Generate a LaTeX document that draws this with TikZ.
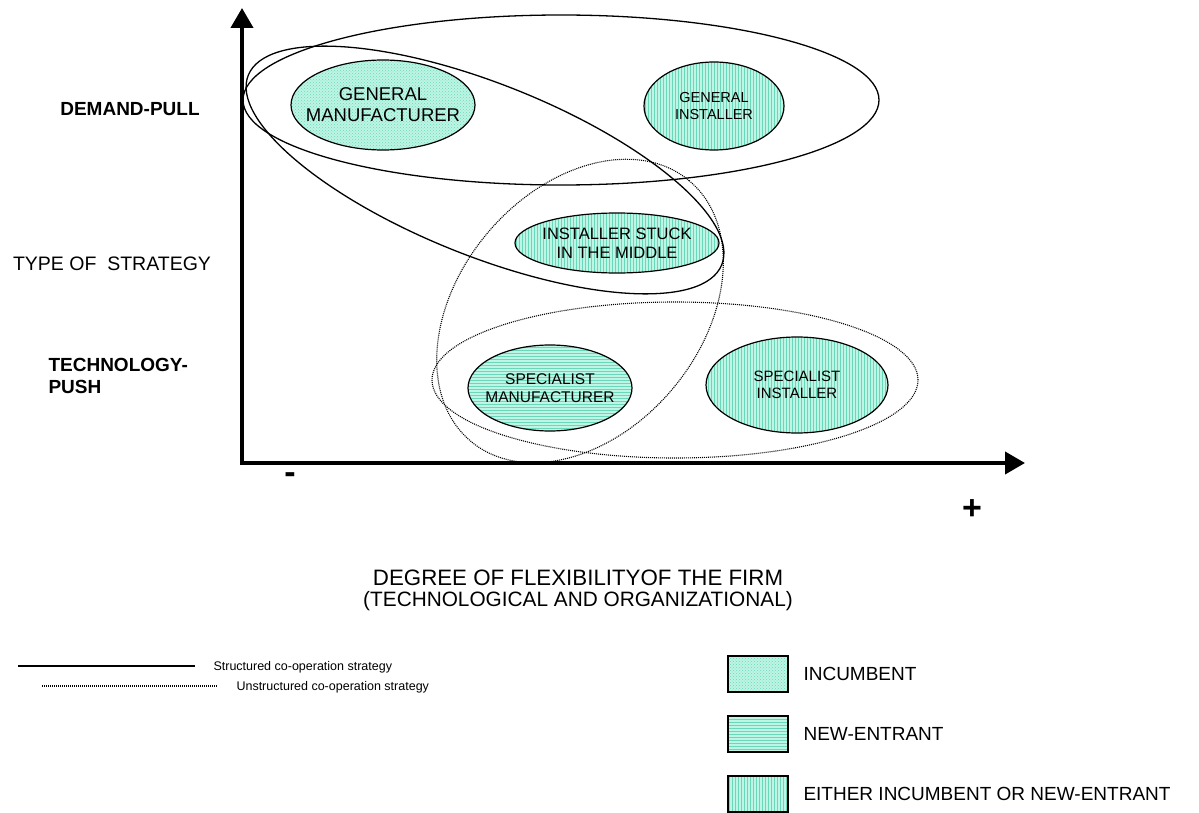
\documentclass[tikz,border=0pt]{standalone}
\usepackage{fontspec}
\setmainfont{Liberation Sans}
\usetikzlibrary{arrows.meta,patterns,shapes.geometric}
\definecolor{aquabg}{RGB}{190,245,228}
\definecolor{aqualn}{RGB}{105,215,185}
\begin{document}
\begin{tikzpicture}[x=1pt,y=-1pt,
  blob/.style={ellipse, draw, line width=1.2pt, preaction={fill=aquabg}, inner sep=0pt},
  inc/.style={pattern=crosshatch dots, pattern color=aqualn},
  newe/.style={pattern=horizontal lines, pattern color=aqualn},
  eith/.style={pattern=vertical lines, pattern color=aqualn},
  firmtxt/.style={align=center, inner sep=0pt},
  solidring/.style={draw, line width=1.3pt},
  dotring/.style={draw, line width=1.1pt, dash pattern=on 1pt off 1pt},
  axis/.style={line width=4pt, -{Triangle[length=20pt,width=22pt]}},
  lbl/.style={font=\fontsize{19.5}{22}\selectfont},
  blbl/.style={font=\bfseries\fontsize{19}{22}\selectfont},
  leg/.style={font=\fontsize{12.5}{14}\selectfont, anchor=west},
  legtxt/.style={font=\fontsize{19}{22}\selectfont, anchor=west},
  legbox/.style={draw, line width=1.2pt, minimum width=60pt, minimum height=36pt, preaction={fill=aquabg}}
]
\useasboundingbox (0,0) rectangle (1199,813);

% outline groupings
\draw[solidring] (561,100) ellipse [x radius=318pt, y radius=85pt];
\draw[solidring, rotate around={-21.8:(485,170)}] (485,170) ellipse [x radius=255pt, y radius=86pt];
\draw[dotring, rotate around={50:(580,311)}] (580,311) ellipse [x radius=170pt, y radius=121pt];
\draw[dotring] (675,380) ellipse [x radius=243pt, y radius=78pt];

% firms
\node[blob, inc, minimum width=184pt, minimum height=90pt] (genman) at (383,105) {};
\node[firmtxt, font=\fontsize{18.5}{21}\selectfont] (genmanT) at (genman) {GENERAL\\MANUFACTURER};
\node[blob, eith, minimum width=140pt, minimum height=88pt] (genins) at (714,106) {};
\node[firmtxt, font=\fontsize{14.5}{17}\selectfont] (geninsT) at (genins) {GENERAL\\INSTALLER};
\node[blob, eith, minimum width=204pt, minimum height=60pt] (stuck) at (617,243) {};
\node[firmtxt, font=\fontsize{16.5}{19}\selectfont] (stuckT) at (stuck) {INSTALLER STUCK\\IN THE MIDDLE};
\node[blob, newe, minimum width=164pt, minimum height=86pt] (specman) at (550,388) {};
\node[firmtxt, font=\fontsize{15.5}{18}\selectfont] (specmanT) at (specman) {SPECIALIST\\MANUFACTURER};
\node[blob, eith, minimum width=182pt, minimum height=96pt] (specins) at (797,385) {};
\node[firmtxt, font=\fontsize{15}{17.5}\selectfont] (specinsT) at (specins) {SPECIALIST\\INSTALLER};

% axes
\coordinate (origin) at (242,465);
\coordinate (ytip) at (242,8);
\coordinate (xorigin) at (240,463);
\coordinate (xtip) at (1025,463);
\draw[axis] (origin) -- (ytip);
\draw[axis] (xorigin) -- (xtip);

\node[blbl] (dp) at (130,109) {DEMAND-PULL};
\node[lbl] (tos) at (112,264) {TYPE OF\ \ STRATEGY};
\node[blbl, align=left, anchor=west] (tp) at (45,376) {TECHNOLOGY-\\PUSH};
\node[font=\bfseries\fontsize{34}{34}\selectfont] (minus) at (290,478) {-};
\node[font=\bfseries\fontsize{34}{34}\selectfont] (plus) at (972,510) {+};
\node[font=\fontsize{22.3}{24}\selectfont] (xl1) at (578,578) {DEGREE OF FLEXIBILITYOF THE FIRM};
\node[font=\fontsize{20.8}{24}\selectfont] (xl2) at (578,601) {(TECHNOLOGICAL AND ORGANIZATIONAL)};

% legend
\coordinate (s1) at (18,666);
\coordinate (s2) at (195,666);
\coordinate (u1) at (42,686);
\coordinate (u2) at (218,686);
\draw[line width=1.3pt] (s1) -- (s2);
\draw[line width=1.1pt, dash pattern=on 1pt off 1pt] (u1) -- (u2);
\node[leg] (st) at (210,667) {Structured co-operation strategy};
\node[leg] (ust) at (233,687) {Unstructured co-operation strategy};

\node[legbox, inc] (b1) at (758,674) {};
\node[legbox, newe] (b2) at (758,734) {};
\node[legbox, eith] (b3) at (758,794) {};
\node[legtxt] (t1) at (800,674) {INCUMBENT};
\node[legtxt] (t2) at (800,734) {NEW-ENTRANT};
\node[legtxt] (t3) at (800,794) {EITHER INCUMBENT OR NEW-ENTRANT};
\end{tikzpicture}
\end{document}
